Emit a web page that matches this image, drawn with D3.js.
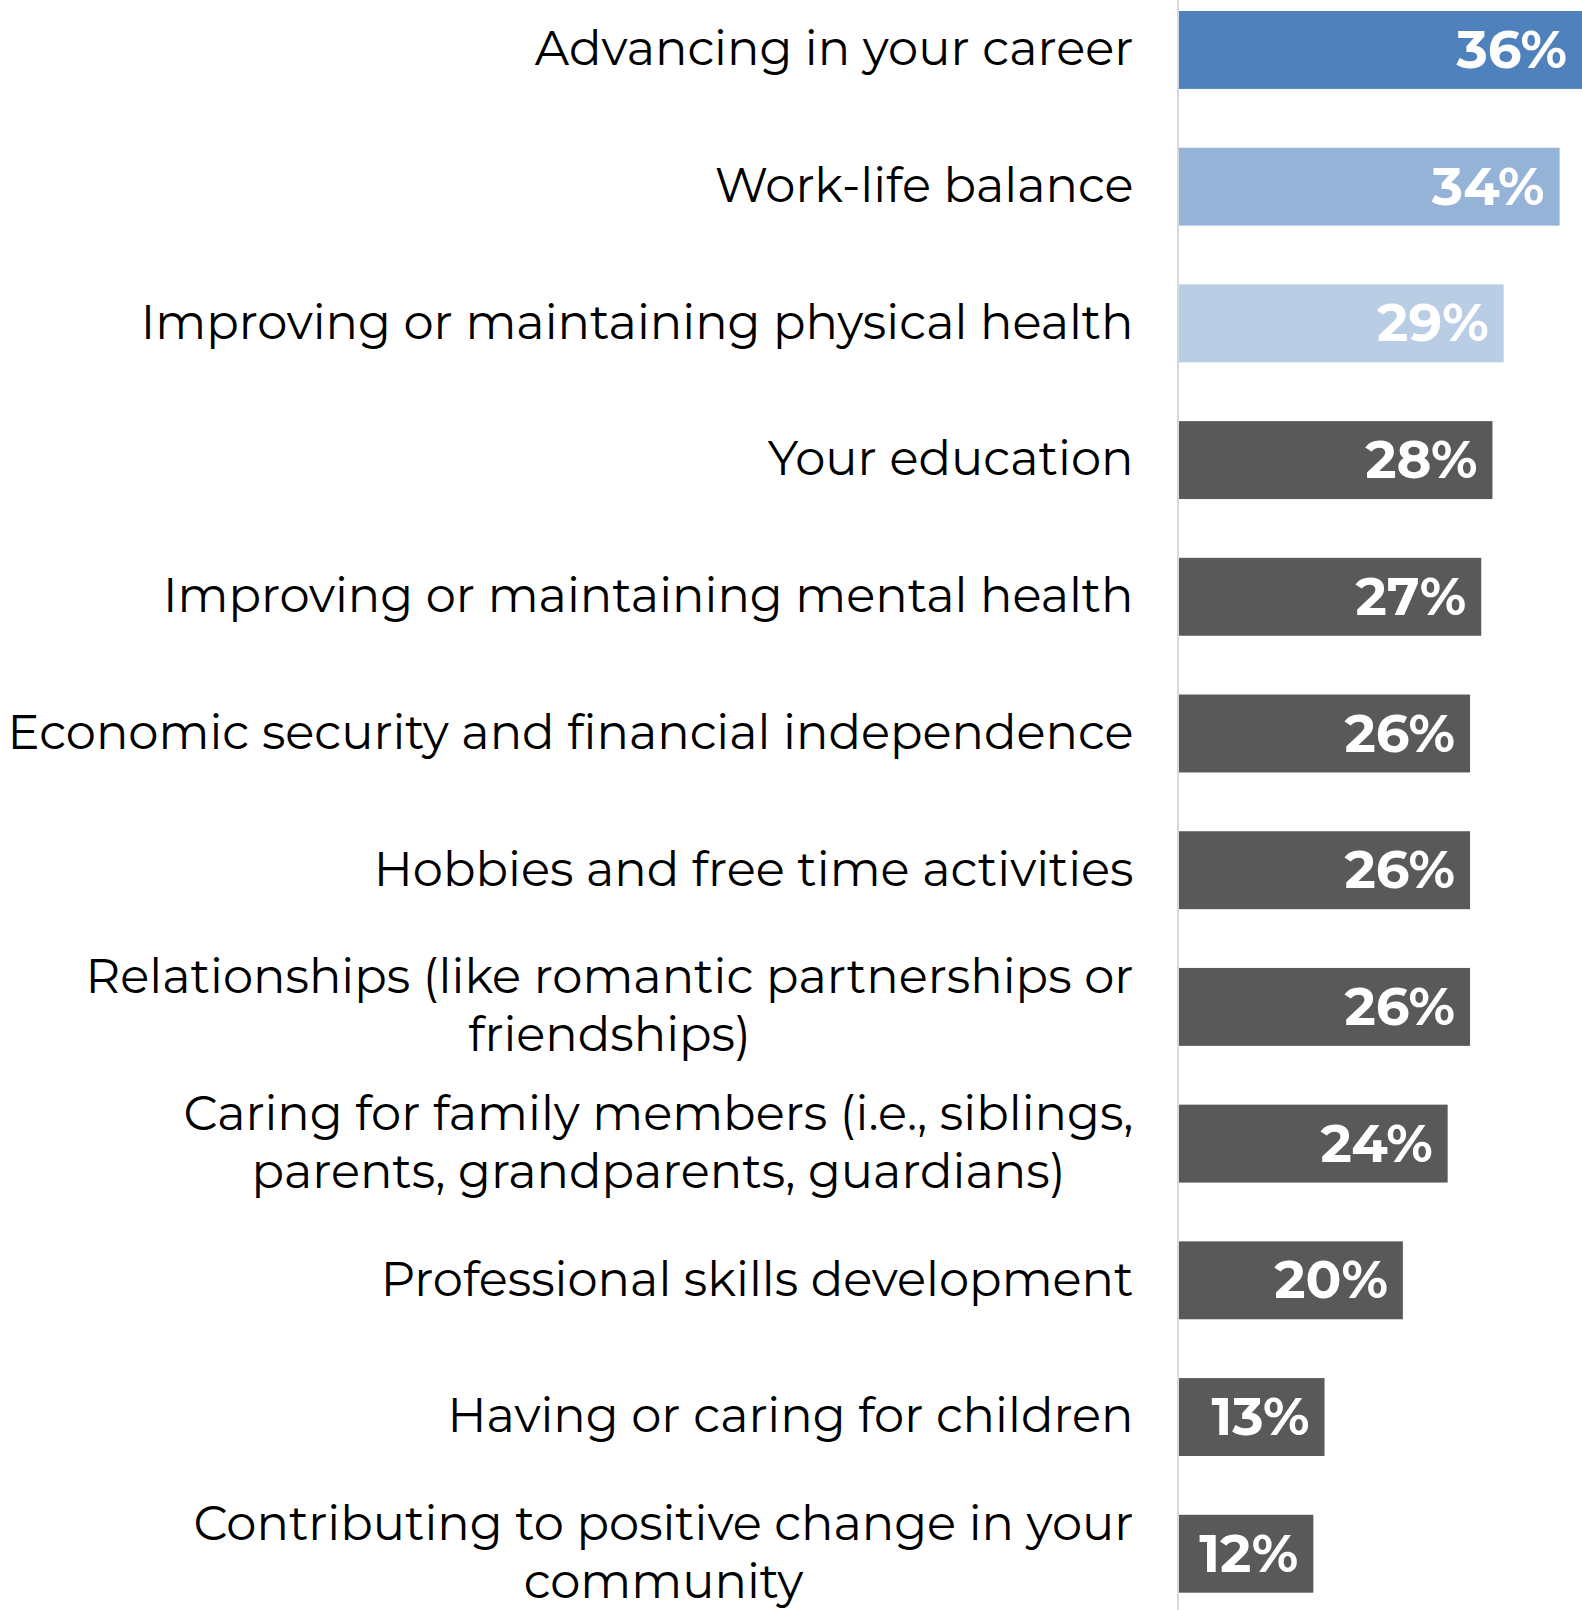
<!DOCTYPE html>
<html>
<head>
<meta charset="utf-8">
<script src="https://cdn.jsdelivr.net/npm/d3@7"></script>
<style>
  html, body { margin: 0; padding: 0; background: #ffffff; }
  svg { display: block; }
</style>
</head>
<body>
<svg id="chart"></svg>
<script>
// Share of respondents naming each area as a priority (%)
const categories = [
  "Advancing in your career",
  "Work-life balance",
  "Improving or maintaining physical health",
  "Your education",
  "Improving or maintaining mental health",
  "Economic security and financial independence",
  "Hobbies and free time activities",
  "Relationships (like romantic partnerships or\nfriendships)",
  "Caring for family members (i.e., siblings,\nparents, grandparents, guardians)",
  "Professional skills development",
  "Having or caring for children",
  "Contributing to positive change in your\ncommunity"
];
const values = [36, 34, 29, 28, 27, 26, 26, 26, 24, 20, 13, 12];
const barColors = ["#4f81bd", "#95b3d7", "#b9cde5", "#595959", "#595959", "#595959",
                   "#595959", "#595959", "#595959", "#595959", "#595959", "#595959"];

const W = 1582, H = 1610;
const axisX = 1178;        // position of the zero line
const labelRight = 1133.5; // right edge of category labels
const labelFont = "Montserrat, 'Noto Sans', sans-serif";

const svg = d3.select("#chart").attr("width", W).attr("height", H);

const x = d3.scaleLinear().domain([0, 36]).range([axisX + 1, W]);
const y = d3.scaleBand()
  .domain(categories)
  .range([11, 1592.7])
  .paddingInner(0.43)
  .paddingOuter(0);

// bars
svg.append("g").selectAll("rect")
  .data(categories)
  .join("rect")
  .attr("x", x(0))
  .attr("y", d => y(d))
  .attr("width", (d, i) => x(values[i]) - x(0))
  .attr("height", y.bandwidth())
  .attr("fill", (d, i) => barColors[i]);

// zero line
svg.append("line")
  .attr("x1", axisX).attr("x2", axisX)
  .attr("y1", 0).attr("y2", H)
  .attr("stroke", "#d9d9d9")
  .attr("stroke-width", 2);

// category labels (multi-line blocks are centred on themselves, right-aligned as a block)
const lineH = 58;
const labelG = svg.append("g");
categories.forEach((c, i) => {
  const lines = c.split("\n");
  const cy = y(c) + y.bandwidth() / 2;
  const t = labelG.append("text")
    .attr("font-family", labelFont)
    .attr("font-size", 48)
    .attr("fill", "#000000")
    .attr("text-anchor", "middle");
  lines.forEach((ln, k) => {
    t.append("tspan")
      .attr("x", 0)
      .attr("y", cy + (k - (lines.length - 1) / 2) * lineH)
      .attr("dy", "0.32em")
      .text(ln);
  });
  // block width = widest line; shift so the block's right edge sits at labelRight
  const bw = d3.max(t.selectAll("tspan").nodes(), n => n.getComputedTextLength());
  t.attr("transform", `translate(${labelRight - bw / 2},0)`);
});

// value labels inside bar ends
svg.append("g").selectAll("text")
  .data(categories)
  .join("text")
  .attr("x", (d, i) => x(values[i]) - 15)
  .attr("y", d => y(d) + y.bandwidth() / 2)
  .attr("dy", "0.34em")
  .attr("text-anchor", "end")
  .attr("font-family", labelFont)
  .attr("font-weight", 700)
  .attr("font-size", 53)
  .attr("letter-spacing", 0)
  .attr("fill", "#ffffff")
  .text((d, i) => values[i] + "%");
</script>
</body>
</html>
